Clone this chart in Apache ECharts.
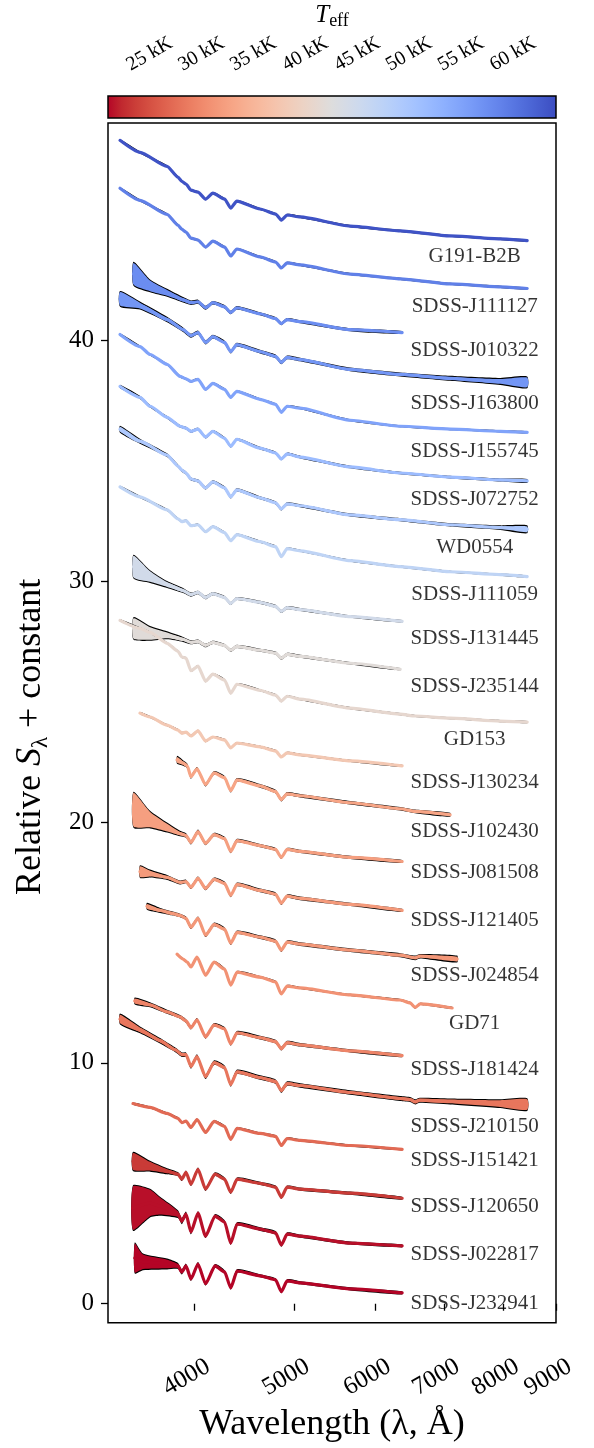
<!DOCTYPE html>
<html>
<head>
<meta charset="utf-8">
<script src="https://cdn.jsdelivr.net/npm/echarts@6/dist/echarts.min.js"></script>
<style>
  html, body { margin: 0; padding: 0; background: #ffffff; }
  #chart { width: 594px; height: 1448px; }
</style>
</head>
<body>
<div id="chart"></div>
<script>
// ---- Stars, top to bottom ----
const STAR_NAMES = [
  'G191-B2B', 'SDSS-J111127', 'SDSS-J010322', 'SDSS-J163800', 'SDSS-J155745',
  'SDSS-J072752', 'WD0554', 'SDSS-J111059', 'SDSS-J131445', 'SDSS-J235144',
  'GD153', 'SDSS-J130234', 'SDSS-J102430', 'SDSS-J081508', 'SDSS-J121405',
  'SDSS-J024854', 'GD71', 'SDSS-J181424', 'SDSS-J210150', 'SDSS-J151421',
  'SDSS-J120650', 'SDSS-J022817', 'SDSS-J232941'
];
// effective temperature, kK
const STAR_TEFF = [
  63.5, 59.0, 57.5, 56.5, 55.0,
  51.5, 49.5, 47.0, 44.5, 42.0,
  41.0, 37.8, 33.0, 32.3, 31.8,
  31.5, 31.0, 29.6, 28.3, 27.2,
  23.5, 21.4, 21.0
];
// name tags: wavelength and level
const LABEL_WAVELENGTH = 7500;
const LABEL_LEVEL = [
  43.46, 41.42, 39.56, 37.36, 35.38,
  33.41, 31.41, 29.46, 27.62, 25.62,
  23.42, 21.63, 19.62, 17.89, 15.90,
  13.62, 11.64, 9.72, 7.36, 5.95,
  4.03, 2.03, 0.02
];

// ---- Spectra: [wavelength (Å), relative S + constant, noise half-width] ----
const SPEC_G191_B2B = [
  [3386,48.30,0],[3541,47.80,0],[3763,47.22,0],[3856,46.77,0],[3889,46.60,0],[3926,46.48,0],
  [3970,46.23,0],[4033,46.15,0],[4102,45.86,0],[4170,46.11,0],[4281,45.86,0],[4340,45.49,0],
  [4400,45.78,0],[4635,45.45,0],[4800,45.24,0],[4861,44.99,0],[4925,45.20,0],[5071,45.12,0],
  [5673,44.74,0],[6346,44.54,0],[7098,44.33,0],[7942,44.21,0],[8437,44.14,0]
];
const SPEC_J111127 = [
  [3386,46.31,0],[3541,45.81,0],[3763,45.23,0],[3856,44.78,0],[3889,44.61,0],[3926,44.49,0],
  [3970,44.24,0],[4033,44.16,0],[4102,43.87,0],[4170,44.12,0],[4281,43.87,0],[4340,43.50,0],
  [4400,43.79,0],[4635,43.46,0],[4800,43.25,0],[4861,43.00,0],[4925,43.21,0],[5071,43.13,0],
  [5673,42.75,0],[6346,42.55,0],[7098,42.34,0],[7942,42.22,0],[8437,42.15,0]
];
const SPEC_J010322 = [
  [3490,42.76,0.45],[3622,42.26,0.22],[3763,41.97,0.12],[3900,41.68,0.07],[3970,41.56,0.05],
  [4033,41.60,0.04],[4102,41.35,0.04],[4170,41.56,0.03],[4281,41.39,0.03],[4340,41.15,0.03],
  [4400,41.35,0.03],[4635,41.10,0.02],[4800,40.90,0.02],[4861,40.69,0.02],[4925,40.86,0.02],
  [5071,40.77,0.02],[5673,40.44,0.02],[6374,40.32,0.02]
];
const SPEC_J163800 = [
  [3386,41.72,0.28],[3541,41.44,0.12],[3763,40.86,0.07],[3900,40.44,0.05],[3970,40.19,0.04],
  [4033,40.32,0.04],[4102,39.91,0.04],[4170,40.15,0.03],[4281,39.91,0.03],[4340,39.53,0.03],
  [4400,39.82,0.03],[4635,39.53,0.03],[4800,39.33,0.03],[4861,39.08,0.03],[4925,39.29,0.03],
  [5071,39.20,0.03],[5673,38.79,0.03],[6346,38.58,0.04],[7098,38.42,0.06],[7942,38.29,0.10],
  [8437,38.25,0.20]
];
const SPEC_J155745 = [
  [3386,40.24,0.01],[3541,39.74,0],[3622,39.41,0],[3763,39.00,0],[3874,38.50,0],[3926,38.40,0],
  [3970,38.29,0],[4033,38.38,0],[4102,37.96,0],[4170,38.21,0],[4281,37.96,0],[4340,37.63,0],
  [4400,37.88,0],[4635,37.55,0],[4800,37.34,0],[4861,37.01,0],[4925,37.26,0],[5071,37.18,0],
  [5673,36.68,0],[6346,36.43,0],[7098,36.31,0],[7942,36.22,0],[8437,36.18,0]
];
const SPEC_J072752 = [
  [3386,38.08,0.03],[3541,37.63,0.02],[3622,37.26,0.01],[3763,36.80,0.01],[3874,36.43,0.01],
  [3926,36.35,0.01],[3970,36.22,0.01],[4033,36.31,0.01],[4102,35.98,0.01],[4170,36.22,0.01],
  [4281,35.93,0.01],[4340,35.60,0.01],[4400,35.89,0.01],[4635,35.52,0.01],[4800,35.32,0.01],
  [4861,35.07,0.01],[4925,35.28,0.01],[5071,35.15,0.01],[5673,34.74,0.01],[6346,34.49,0.01],
  [7098,34.32,0.01],[7942,34.20,0.02],[8437,34.16,0.04]
];
const SPEC_WD0554 = [
  [3386,36.31,0.10],[3541,35.81,0.06],[3763,35.23,0.03],[3856,34.78,0.02],[3889,34.61,0.02],
  [3926,34.49,0.02],[3970,34.24,0.02],[4033,34.16,0.02],[4102,33.87,0.02],[4170,34.12,0.02],
  [4281,33.87,0.02],[4340,33.50,0.02],[4400,33.79,0.02],[4635,33.46,0.02],[4800,33.25,0.02],
  [4861,33.00,0.02],[4925,33.21,0.02],[5071,33.13,0.02],[5673,32.75,0.02],[6346,32.55,0.02],
  [7098,32.34,0.03],[7942,32.22,0.05],[8437,32.15,0.12]
];
const SPEC_J111059 = [
  [3386,33.91,0],[3541,33.50,0],[3763,32.96,0],[3856,32.59,0],[3889,32.47,0],[3926,32.51,0],
  [3970,32.30,0],[4033,32.34,0],[4102,32.05,0],[4170,32.26,0],[4281,32.01,0],[4340,31.68,0],
  [4400,31.93,0],[4635,31.64,0],[4800,31.43,0],[4861,31.02,0],[4925,31.35,0],[5071,31.26,0],
  [5673,30.85,0],[6346,30.60,0],[7098,30.39,0],[7942,30.27,0],[8437,30.19,0]
];
const SPEC_J131445 = [
  [3490,30.60,0.45],[3622,30.19,0.22],[3763,29.86,0.10],[3900,29.61,0.06],[3970,29.44,0.04],
  [4033,29.53,0.03],[4102,29.32,0.03],[4170,29.48,0.02],[4281,29.32,0.02],[4340,29.07,0.02],
  [4400,29.28,0.02],[4635,29.12,0.02],[4800,28.95,0.02],[4861,28.74,0.02],[4925,28.90,0.02],
  [5071,28.82,0.02],[5673,28.53,0.01],[6374,28.33,0.01]
];
const SPEC_J235144 = [
  [3490,28.04,0.42],[3622,27.83,0.26],[3763,27.75,0.12],[3900,27.58,0.06],[3970,27.46,0.04],
  [4033,27.50,0.03],[4102,27.33,0.03],[4170,27.46,0.02],[4281,27.33,0.02],[4340,27.13,0.02],
  [4400,27.29,0.02],[4635,27.13,0.02],[4800,27.01,0.02],[4861,26.80,0.02],[4925,26.96,0.02],
  [5071,26.88,0.02],[5673,26.59,0.01],[6346,26.34,0.01]
];
const SPEC_GD153 = [
  [3386,28.37,0],[3541,28.04,0],[3622,27.87,0],[3763,27.42,0],[3856,27.09,0],[3889,26.85,0],
  [3926,26.80,0],[3970,26.28,0],[4033,26.47,0],[4102,25.85,0],[4170,26.14,0],[4281,25.89,0],
  [4340,25.35,0],[4400,25.72,0],[4635,25.47,0],[4800,25.27,0],[4861,25.02,0],[4925,25.22,0],
  [5071,25.10,0],[5673,24.73,0],[6346,24.48,0],[6563,24.40,0],[7098,24.31,0],[7942,24.19,0],
  [8437,24.15,0]
];
const SPEC_J130234 = [
  [3541,24.52,0],[3622,24.36,0],[3763,24.02,0],[3856,23.82,0],[3889,23.69,0],[3926,23.73,0],
  [3970,23.57,0],[4033,23.78,0],[4102,23.36,0],[4170,23.53,0],[4281,23.41,0],[4340,23.08,0],
  [4400,23.28,0],[4635,23.12,0],[4800,22.95,0],[4861,22.70,0],[4925,22.87,0],[5071,22.79,0],
  [5673,22.54,0],[6374,22.33,0]
];
const SPEC_J102430 = [
  [3848,22.58,0.12],[3900,22.45,0.07],[3937,22.33,0.05],[3970,21.88,0.04],[4024,22.21,0.03],
  [4102,21.55,0.03],[4181,22.04,0.03],[4281,21.84,0.03],[4340,21.30,0.03],[4402,21.75,0.03],
  [4635,21.50,0.03],[4800,21.26,0.03],[4861,20.93,0.03],[4925,21.17,0.03],[5071,21.09,0.03],
  [5673,20.80,0.03],[6346,20.55,0.03],[6563,20.44,0.03],[7098,20.30,0.04]
];
const SPEC_J081508 = [
  [3490,20.51,0.70],[3622,20.10,0.32],[3763,19.77,0.16],[3874,19.52,0.07],[3926,19.44,0.05],
  [3970,19.15,0.04],[4033,19.60,0.04],[4102,19.11,0.03],[4181,19.48,0.03],[4281,19.31,0.03],
  [4340,18.78,0.03],[4402,19.23,0.03],[4635,19.02,0.02],[4800,18.86,0.02],[4861,18.53,0.02],
  [4925,18.86,0.02],[5071,18.78,0.02],[5673,18.53,0.02],[6374,18.36,0.02]
];
const SPEC_J121405 = [
  [3541,17.94,0.22],[3622,17.86,0.12],[3763,17.70,0.06],[3874,17.49,0.04],[3926,17.53,0.03],
  [3970,17.29,0.03],[4033,17.66,0.03],[4102,17.24,0.03],[4181,17.62,0.03],[4281,17.45,0.03],
  [4340,16.95,0.03],[4402,17.41,0.03],[4635,17.16,0.03],[4800,17.00,0.03],[4861,16.63,0.03],
  [4925,16.92,0.03],[5071,16.83,0.03],[5673,16.58,0.02],[6374,16.33,0.02]
];
const SPEC_J024854 = [
  [3597,16.50,0.10],[3704,16.33,0.06],[3805,16.21,0.04],[3874,16.12,0.03],[3926,16.00,0.03],
  [3970,15.63,0.03],[4033,16.00,0.03],[4102,15.30,0.03],[4181,15.75,0.03],[4281,15.55,0.03],
  [4340,14.97,0.03],[4402,15.42,0.03],[4635,15.22,0.03],[4800,15.05,0.03],[4861,14.68,0.03],
  [4925,15.01,0.03],[5071,14.93,0.03],[5673,14.68,0.03],[6346,14.47,0.04],[6563,14.36,0.05],
  [6637,14.43,0.05],[7210,14.31,0.10]
];
const SPEC_GD71 = [
  [3848,14.51,0],[3900,14.31,0],[3937,14.18,0],[3970,13.98,0],[4024,14.39,0],[4102,13.64,0],
  [4181,14.18,0],[4281,13.89,0],[4340,13.23,0],[4402,13.77,0],[4635,13.56,0],[4800,13.36,0],
  [4861,12.86,0],[4925,13.19,0],[5071,13.11,0],[5673,12.82,0],[6346,12.61,0],[6490,12.49,0],
  [6563,12.30,0],[6637,12.45,0],[7130,12.28,0]
];
const SPEC_J181424 = [
  [3500,12.57,0.10],[3622,12.41,0.06],[3763,12.12,0.04],[3874,11.91,0.03],[3926,11.74,0.03],
  [3970,11.46,0.03],[4024,11.79,0.03],[4102,11.08,0.03],[4181,11.58,0.03],[4281,11.41,0.03],
  [4340,10.79,0.03],[4402,11.25,0.03],[4635,11.05,0.03],[4800,10.88,0.03],[4861,10.59,0.03],
  [4925,10.84,0.03],[5071,10.75,0.03],[5673,10.50,0.02],[6374,10.30,0.02]
];
const SPEC_J210150 = [
  [3386,11.82,0.18],[3541,11.37,0.10],[3704,10.92,0.07],[3830,10.55,0.05],[3891,10.34,0.05],
  [3926,10.34,0.05],[3970,9.85,0.05],[4024,10.26,0.05],[4102,9.43,0.05],[4181,10.01,0.05],
  [4281,9.80,0.05],[4340,9.10,0.05],[4402,9.63,0.05],[4635,9.39,0.05],[4800,9.22,0.05],
  [4861,8.85,0.05],[4925,9.14,0.05],[5071,9.06,0.05],[5673,8.77,0.05],[6346,8.52,0.06],
  [6500,8.47,0.06],[6563,8.38,0.06],[6630,8.45,0.06],[7098,8.40,0.08],[7942,8.31,0.14],
  [8437,8.27,0.22]
];
const SPEC_J151421 = [
  [3486,8.31,0],[3622,8.15,0],[3763,7.90,0],[3856,7.70,0],[3889,7.52,0],[3926,7.58,0],
  [3970,7.32,0],[4024,7.65,0],[4102,7.11,0],[4181,7.57,0],[4281,7.36,0],[4340,6.82,0],
  [4402,7.28,0],[4635,7.07,0],[4800,6.95,0],[4861,6.57,0],[4925,6.86,0],[5071,6.78,0],
  [5673,6.57,0],[6374,6.41,0]
];
const SPEC_J120650 = [
  [3486,5.91,0.35],[3622,5.71,0.18],[3763,5.50,0.08],[3856,5.38,0.04],[3889,5.17,0.03],
  [3926,5.46,0.03],[3970,4.96,0.03],[4033,5.58,0.03],[4102,4.76,0.03],[4190,5.38,0.03],
  [4281,5.17,0.03],[4340,4.63,0.03],[4402,5.17,0.03],[4635,5.00,0.02],[4800,4.84,0.02],
  [4861,4.42,0.02],[4925,4.84,0.02],[5071,4.76,0.02],[5673,4.59,0.02],[6374,4.38,0.02]
];
const SPEC_J022817 = [
  [3486,3.97,0.90],[3622,4.18,0.55],[3704,4.05,0.35],[3856,3.72,0.12],[3889,3.43,0.08],
  [3926,3.72,0.06],[3970,2.98,0.05],[4033,3.76,0.04],[4102,2.81,0.04],[4190,3.64,0.04],
  [4281,3.39,0.03],[4340,2.52,0.03],[4402,3.31,0.03],[4635,3.10,0.03],[4800,2.94,0.03],
  [4861,2.44,0.03],[4925,2.89,0.03],[5071,2.81,0.02],[5673,2.52,0.02],[6374,2.40,0.02]
];
const SPEC_J232941 = [
  [3500,1.90,0.60],[3565,1.74,0.30],[3763,1.65,0.18],[3856,1.57,0.08],[3889,1.32,0.06],
  [3926,1.57,0.05],[3970,1.03,0.04],[4033,1.65,0.04],[4102,0.83,0.03],[4190,1.57,0.03],
  [4281,1.32,0.03],[4340,0.66,0.03],[4402,1.36,0.03],[4635,1.16,0.02],[4800,0.99,0.02],
  [4861,0.50,0.02],[4925,0.95,0.02],[5071,0.87,0.02],[5673,0.62,0.02],[6374,0.45,0.02]
];

const SPECTRA = [
  SPEC_G191_B2B, SPEC_J111127, SPEC_J010322, SPEC_J163800, SPEC_J155745,
  SPEC_J072752, SPEC_WD0554, SPEC_J111059, SPEC_J131445, SPEC_J235144,
  SPEC_GD153, SPEC_J130234, SPEC_J102430, SPEC_J081508, SPEC_J121405,
  SPEC_J024854, SPEC_GD71, SPEC_J181424, SPEC_J210150, SPEC_J151421,
  SPEC_J120650, SPEC_J022817, SPEC_J232941
];

// ---- Axes ----
const X_RANGE = [3296, 9000];
const X_TICKS = [4000, 5000, 6000, 7000, 8000, 9000];
const Y_RANGE = [-0.79, 49.02];
const Y_TICKS = [0, 10, 20, 30, 40];
const TEFF_RANGE = [21.0, 64.15];
const TEFF_TICKS = [25, 30, 35, 40, 45, 50, 55, 60];

// diverging blue-white-red map (low -> high), used reversed: hot = blue, cool = red
const COOLWARM = [
  [59,76,192],[68,90,204],[77,104,215],[87,117,225],[98,130,234],[108,142,241],[119,154,247],
  [130,165,251],[141,176,254],[152,185,255],[163,194,255],[174,201,253],[184,208,249],
  [194,213,244],[204,217,238],[213,219,230],[221,221,221],[229,216,209],[236,211,197],
  [241,204,185],[245,196,173],[247,187,160],[247,177,148],[247,166,135],[244,154,123],
  [241,141,111],[236,127,99],[229,112,88],[222,96,77],[213,80,66],[203,62,56],[192,40,47],
  [180,4,38]
];
function teffColor(t) {
  const s = (t - TEFF_RANGE[0]) / (TEFF_RANGE[1] - TEFF_RANGE[0]);
  const p = Math.min(Math.max(1 - s, 0), 1) * (COOLWARM.length - 1);
  const i = Math.floor(p), j = Math.min(i + 1, COOLWARM.length - 1), r = p - i;
  const c = [0, 1, 2].map(k => Math.round(COOLWARM[i][k] * (1 - r) + COOLWARM[j][k] * r));
  return 'rgb(' + c.join(',') + ')';
}
const starColors = STAR_TEFF.map(teffColor);
const cbarStops = COOLWARM.slice().reverse().map((c, k) => ({
  offset: k / (COOLWARM.length - 1), color: 'rgb(' + c.join(',') + ')'
}));

const SERIF = '"Liberation Serif", "Times New Roman", serif';
const SMOOTH = 0.2;
const chart = echarts.init(document.getElementById('chart'), null, { renderer: 'canvas' });

// noise bands: black envelope with the star colour inside
const bandSeries = {
  type: 'custom', xAxisIndex: 0, yAxisIndex: 0, z: 2, silent: true, animation: false,
  data: SPECTRA.map((s, i) => [s[0][0], s[0][1], i]),
  encode: { x: 0, y: 1 },
  renderItem: function (params, api) {
    const spec = SPECTRA[params.dataIndex];
    const edge = (sign, ext) => spec.map(p => api.coord([p[0], p[1] + sign * (p[2] + ext)]));
    const band = ext => edge(1, ext).concat(edge(-1, ext).reverse());
    return {
      type: 'group', children: [
        { type: 'polygon', shape: { points: band(0.045), smooth: SMOOTH }, style: { fill: '#000000' } },
        { type: 'polygon', shape: { points: band(0), smooth: SMOOTH }, style: { fill: starColors[params.dataIndex] } }
      ]
    };
  }
};

const lineSeries = SPECTRA.map((spec, i) => ({
  type: 'line', name: STAR_NAMES[i], xAxisIndex: 0, yAxisIndex: 0,
  data: spec.map(p => [p[0], p[1]]),
  showSymbol: false, symbol: 'none', z: 3, silent: true, animation: false,
  smooth: SMOOTH, smoothMonotone: 'x',
  lineStyle: { color: starColors[i], width: 3.2, join: 'round', cap: 'round' }
}));

const labelSeries = {
  type: 'scatter', xAxisIndex: 0, yAxisIndex: 0, z: 5, silent: true, animation: false,
  data: LABEL_LEVEL.map(y => [LABEL_WAVELENGTH, y]),
  symbolSize: 1, itemStyle: { color: 'rgba(0,0,0,0)' },
  label: {
    show: true, position: 'inside', color: '#000', fontFamily: SERIF, fontSize: 21,
    formatter: p => STAR_NAMES[p.dataIndex]
  }
};

const colorbarSeries = {
  type: 'custom', xAxisIndex: 1, yAxisIndex: 1, silent: true, animation: false,
  data: [[TEFF_RANGE[0], 0, TEFF_RANGE[1], 1]],
  encode: { x: [0, 2], y: [1, 3] },
  renderItem: function (params, api) {
    const a = api.coord([api.value(0), api.value(1)]);
    const b = api.coord([api.value(2), api.value(3)]);
    return {
      type: 'rect',
      shape: { x: a[0], y: b[1], width: b[0] - a[0], height: a[1] - b[1] },
      style: {
        fill: new echarts.graphic.LinearGradient(0, 0, 1, 0, cbarStops),
        stroke: '#000', lineWidth: 1.5
      }
    };
  }
};

const tickStyle = { color: '#000', width: 1.3 };

chart.setOption({
  backgroundColor: '#ffffff',
  animation: false,
  grid: [
    { left: 108, width: 448, top: 123, height: 1204, show: true, borderColor: '#000', borderWidth: 1.5, backgroundColor: 'transparent' },
    { left: 108, width: 448, top: 96, height: 22, show: false }
  ],
  xAxis: [
    {
      type: 'log', gridIndex: 0, min: X_RANGE[0], max: X_RANGE[1], position: 'bottom',
      axisLine: { show: false }, splitLine: { show: false }, minorTick: { show: false },
      axisTick: { show: true, customValues: X_TICKS, length: 7, lineStyle: tickStyle },
      axisLabel: {
        show: true, customValues: X_TICKS, rotate: 30, align: 'center', verticalAlign: 'middle',
        margin: 50, padding: [0, 18, 0, 0], fontFamily: SERIF, fontSize: 25, color: '#000',
        formatter: v => String(Math.round(v))
      },
      name: 'Wavelength (λ, Å)', nameLocation: 'middle', nameGap: 71,
      nameTextStyle: { fontFamily: SERIF, fontSize: 36, color: '#000' }
    },
    {
      type: 'value', gridIndex: 1, min: TEFF_RANGE[0], max: TEFF_RANGE[1], position: 'top',
      axisLine: { show: false }, splitLine: { show: false },
      axisTick: { show: true, customValues: TEFF_TICKS, length: 7, lineStyle: tickStyle },
      axisLabel: {
        show: true, customValues: TEFF_TICKS, rotate: 30, align: 'center', verticalAlign: 'middle',
        margin: 42, fontFamily: SERIF, fontSize: 20, color: '#000',
        formatter: v => v + ' kK'
      },
      name: '{t|T}{e|eff}', nameLocation: 'middle', nameGap: 55,
      nameTextStyle: {
        color: '#000',
        rich: {
          t: { fontFamily: SERIF, fontStyle: 'italic', fontSize: 25, lineHeight: 30, color: '#000' },
          e: { fontFamily: SERIF, fontSize: 18, lineHeight: 16, verticalAlign: 'bottom', color: '#000' }
        }
      }
    }
  ],
  yAxis: [
    {
      type: 'value', gridIndex: 0, min: Y_RANGE[0], max: Y_RANGE[1],
      axisLine: { show: false }, splitLine: { show: false },
      axisTick: { show: true, customValues: Y_TICKS, length: 7, lineStyle: tickStyle },
      axisLabel: { show: true, customValues: Y_TICKS, margin: 14, fontFamily: SERIF, fontSize: 25, color: '#000' },
      name: '{n|Relative }{s|S}{b|λ}{n| + constant}', nameLocation: 'middle', nameRotate: 90, nameGap: 56,
      nameTextStyle: {
        color: '#000', padding: [0, 28, 0, 0],
        rich: {
          n: { fontFamily: SERIF, fontSize: 36, lineHeight: 42, color: '#000' },
          s: { fontFamily: SERIF, fontSize: 36, fontStyle: 'italic', lineHeight: 42, color: '#000' },
          b: { fontFamily: SERIF, fontSize: 23, lineHeight: 20, verticalAlign: 'bottom', color: '#000' }
        }
      }
    },
    { type: 'value', gridIndex: 1, min: 0, max: 1, show: false }
  ],
  series: [colorbarSeries, bandSeries].concat(lineSeries, [labelSeries])
});
</script>
</body>
</html>
